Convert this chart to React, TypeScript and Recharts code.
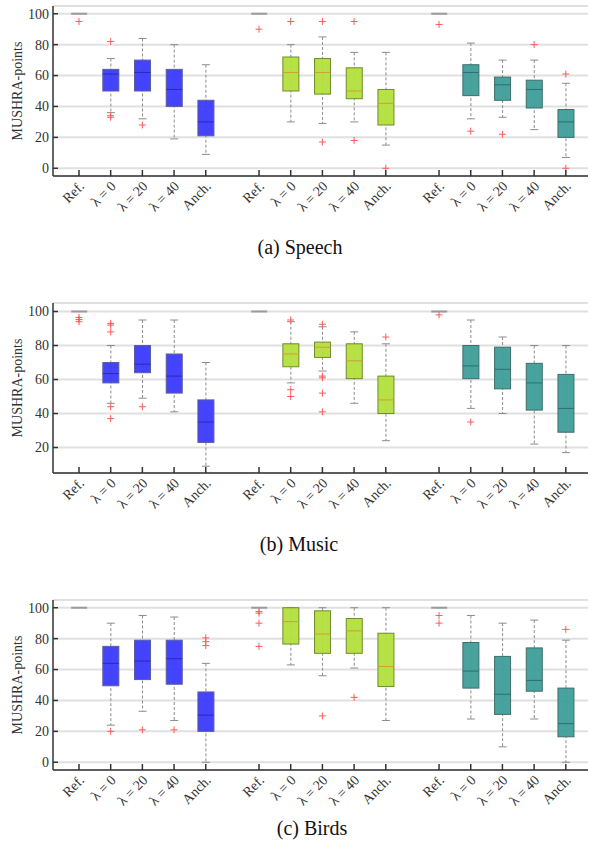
import { Bar, CartesianGrid, ComposedChart, Scatter, XAxis, YAxis } from 'recharts';

const CATEGORIES = ['Ref.', 'λ = 0', 'λ = 20', 'λ = 40', 'Anch.'];
const GROUP_STEP = 5.68; // x offset between the three method groups
const X_DOMAIN = [-0.82, 16.06];

// rows: [whisker low, q1, median, q3, whisker high], one per category
const SPEECH_1 = [[100, 100, 100, 100, 100], [36, 50, 61, 64, 71], [32, 50, 62, 70, 84], [19, 40, 51, 64, 80], [9, 21, 30, 44, 67]];
const SPEECH_2 = [[100, 100, 100, 100, 100], [30, 50, 62, 72, 80], [29, 48, 62, 71, 85], [30, 45, 50, 65, 75], [15, 28, 42, 51, 75]];
const SPEECH_3 = [[100, 100, 100, 100, 100], [32, 47, 62, 67, 81], [33, 44, 54, 59, 70], [25, 39, 51, 57, 70], [7, 20, 30, 38, 55]];
const SPEECH_OUT_1 = [[95], [82, 34, 33], [28], [], []];
const SPEECH_OUT_2 = [[90], [95], [95, 17], [95, 18], [0]];
const SPEECH_OUT_3 = [[93], [24], [22], [80], [61, 0]];

const MUSIC_1 = [[100, 100, 100, 100, 100], [46, 58, 63.5, 70, 80], [49, 64, 69, 80, 95], [41, 52, 62, 75, 95], [9, 23, 35, 48, 70]];
const MUSIC_2 = [[100, 100, 100, 100, 100], [58, 67.5, 75, 81, 94], [65, 73, 79, 82, 91], [46, 60.5, 71, 81, 88], [24, 40, 48, 62, 81]];
const MUSIC_3 = [[100, 100, 100, 100, 100], [43, 60.5, 68, 80, 95], [40, 54.5, 66, 79, 85], [22, 42, 58, 69.5, 80], [17, 29, 43, 63, 80]];
const MUSIC_OUT_1 = [[96.5, 95.3, 94], [93, 92, 88, 44, 37], [44], [], []];
const MUSIC_OUT_2 = [[], [95, 54, 50], [92.5, 62, 61, 52, 41], [], [85]];
const MUSIC_OUT_3 = [[98], [35], [], [], []];

const BIRDS_1 = [[100, 100, 100, 100, 100], [24, 49.5, 64, 75, 90], [33, 53.5, 65.5, 79, 95], [27, 50.5, 67, 79, 94], [0, 20, 30.5, 45.5, 64]];
const BIRDS_2 = [[100, 100, 100, 100, 100], [63, 76.5, 91, 100, 100], [56, 70.5, 83, 98, 100], [61, 70.5, 85, 93, 100], [27, 49, 62, 83.5, 100]];
const BIRDS_3 = [[100, 100, 100, 100, 100], [28, 48, 59, 77.5, 95], [10, 31, 44, 68.5, 90], [28, 46, 53, 74, 92], [0, 16.5, 25, 48, 79]];
const BIRDS_OUT_1 = [[], [20], [21], [21], [80.5, 78, 75.5]];
const BIRDS_OUT_2 = [[97.5, 96.5, 90, 75], [], [30], [42], []];
const BIRDS_OUT_3 = [[95, 90], [], [], [], [86]];

const FILL = ['#3a3afc', '#b3e03c', '#3e9e9a'];
const EDGE = ['#5c5ca0', '#6f8a30', '#3d6d6b'];
const MEDIAN = ['#2a2ab0', '#d49a3c', '#2d6e6b'];
const FONT = '"Liberation Serif", "DejaVu Serif", serif';

type Row = { x: number; g: number; ref: boolean; lo: number; q1: number; med: number; q3: number; hi: number };

function WhiskerShape(p: any) {
  const { x, y, width, height, payload } = p;
  if (payload.ref) return <g />;
  const cx = x + width / 2;
  const top = Math.min(y, y + height);
  const bot = Math.max(y, y + height);
  return (
    <g>
      <line x1={cx} x2={cx} y1={top} y2={bot} stroke="#8c8c8c" strokeDasharray="3 2" />
      <line x1={cx - 4} x2={cx + 4} y1={top} y2={top} stroke="#8c8c8c" />
      <line x1={cx - 4} x2={cx + 4} y1={bot} y2={bot} stroke="#8c8c8c" />
    </g>
  );
}

function BoxShape(p: any) {
  const { x, y, width, height, payload } = p;
  if (payload.ref) return <g />;
  const top = Math.min(y, y + height);
  return (
    <rect x={x} y={top} width={width} height={Math.abs(height)} fill={FILL[payload.g]} fillOpacity={0.95}
      stroke={EDGE[payload.g]} strokeWidth={1} />
  );
}

function MedianShape(p: any) {
  const { x, y, width, payload } = p;
  return payload.ref
    ? <line x1={x} x2={x + width} y1={y} y2={y} stroke="#9a9a9a" strokeWidth={2} />
    : <line x1={x} x2={x + width} y1={y} y2={y} stroke={MEDIAN[payload.g]} strokeWidth={1} />;
}

function PlusShape(p: any) {
  const { cx, cy } = p;
  return (
    <g stroke="#ff5b5b" strokeWidth={1}>
      <line x1={cx - 3.5} x2={cx + 3.5} y1={cy} y2={cy} />
      <line x1={cx} x2={cx} y1={cy - 3.5} y2={cy + 3.5} />
    </g>
  );
}

function XTick(p: any) {
  const { x, y, index } = p;
  const label = CATEGORIES[index % CATEGORIES.length];
  return (
    <g>
      <line x1={x} x2={x} y1={y} y2={y - 6} stroke="#333" strokeWidth={1.5} />
      <text x={x + 6} y={y + 11} transform={`rotate(-45 ${x + 6} ${y + 11})`} textAnchor="end"
        fontFamily={FONT} fontSize={14} fill="#333">{label}</text>
    </g>
  );
}

function YTick(p: any) {
  const { x, y, payload } = p;
  return (
    <g>
      <line x1={x} x2={x + 5} y1={y} y2={y} stroke="#333" strokeWidth={1.5} />
      <text x={x - 4} y={y} dy="0.35em" textAnchor="end" fontFamily={FONT} fontSize={14} fill="#333">{payload.value}</text>
    </g>
  );
}

interface PanelProps {
  stats: number[][][];
  outliers: number[][][];
  yDomain: number[];
  yTicks: number[];
}

function Panel({ stats, outliers, yDomain, yTicks }: PanelProps) {
  const rows: Row[] = stats.flatMap((grp, g) => grp.map((s, i) => ({
    x: g * GROUP_STEP + i, g, ref: i === 0, lo: s[0], q1: s[1], med: s[2], q3: s[3], hi: s[4],
  })));
  const points = outliers.flatMap((grp, g) => grp.flatMap((vals, i) => vals.map((v) => ({ x: g * GROUP_STEP + i, y: v }))));
  const xTicks = rows.map((r) => r.x);
  const axisLine = { stroke: '#333', strokeWidth: 1.5 };

  return (
    <ComposedChart width={591} height={240} data={rows} margin={{ top: 6, right: 3, bottom: 4, left: 0 }}>
      <CartesianGrid vertical={false} stroke="#e0e0e0" strokeWidth={2} />
      <XAxis xAxisId={0} dataKey="x" type="number" domain={X_DOMAIN} ticks={xTicks} interval={0} allowDataOverflow
        height={60} tickSize={0} tickMargin={0} tickLine={false} axisLine={axisLine} tick={<XTick />} />
      <XAxis xAxisId="box" dataKey="x" type="number" domain={X_DOMAIN} allowDataOverflow hide />
      <XAxis xAxisId="med" dataKey="x" type="number" domain={X_DOMAIN} allowDataOverflow hide />
      <YAxis type="number" domain={yDomain} ticks={yTicks} allowDataOverflow width={53} tickSize={0} tickMargin={0}
        tickLine={false} axisLine={axisLine} tick={<YTick />} />
      <Bar xAxisId={0} dataKey={(d: Row) => [d.lo, d.hi]} barSize={16} shape={<WhiskerShape />} isAnimationActive={false} />
      <Bar xAxisId="box" dataKey={(d: Row) => [d.q1, d.q3]} barSize={16} shape={<BoxShape />} isAnimationActive={false} />
      <Bar xAxisId="med" dataKey={(d: Row) => [d.med, d.med]} barSize={16} shape={<MedianShape />} isAnimationActive={false} />
      <Scatter xAxisId={0} data={points} dataKey="y" shape={<PlusShape />} isAnimationActive={false} />
    </ComposedChart>
  );
}

export default function App() {
  return (
    <div style={{ position: 'absolute', left: 0, top: 0, width: 591, height: 852, background: '#fff' }}>
      <div style={{ position: 'absolute', left: 0, top: 0 }}>
        <Panel stats={[SPEECH_1, SPEECH_2, SPEECH_3]} outliers={[SPEECH_OUT_1, SPEECH_OUT_2, SPEECH_OUT_3]}
          yDomain={[-5, 105]} yTicks={[0, 20, 40, 60, 80, 100]} />
      </div>
      <div style={{ position: 'absolute', left: 0, top: 297 }}>
        <Panel stats={[MUSIC_1, MUSIC_2, MUSIC_3]} outliers={[MUSIC_OUT_1, MUSIC_OUT_2, MUSIC_OUT_3]}
          yDomain={[5, 105]} yTicks={[20, 40, 60, 80, 100]} />
      </div>
      <div style={{ position: 'absolute', left: 0, top: 594 }}>
        <Panel stats={[BIRDS_1, BIRDS_2, BIRDS_3]} outliers={[BIRDS_OUT_1, BIRDS_OUT_2, BIRDS_OUT_3]}
          yDomain={[-5, 105]} yTicks={[0, 20, 40, 60, 80, 100]} />
      </div>
      <svg width={591} height={852} style={{ position: 'absolute', left: 0, top: 0, pointerEvents: 'none' }}>
        <g fontFamily={FONT} fill="#333" fontSize={14} textAnchor="middle">
          <text x={22} y={91} transform="rotate(-90 22 91)">MUSHRA-points</text>
          <text x={22} y={388} transform="rotate(-90 22 388)">MUSHRA-points</text>
          <text x={22} y={685} transform="rotate(-90 22 685)">MUSHRA-points</text>
        </g>
        <g fontFamily={FONT} fill="#111" fontSize={20} textAnchor="middle">
          <text x={300} y={254}>(a) Speech</text>
          <text x={299} y={551}>(b) Music</text>
          <text x={312} y={835}>(c) Birds</text>
        </g>
      </svg>
    </div>
  );
}
